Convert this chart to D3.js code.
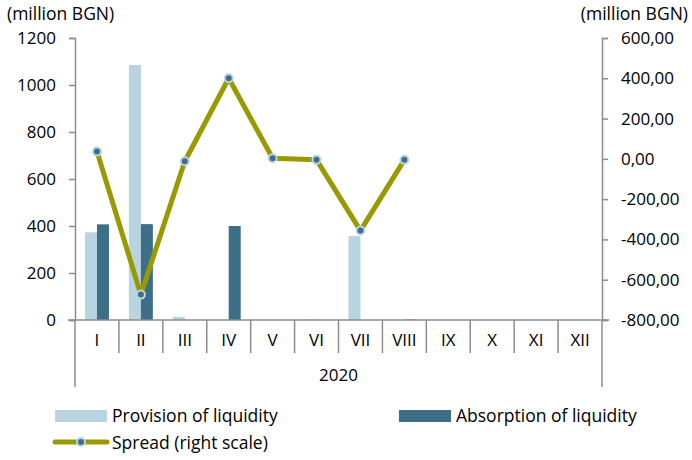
<html>
<head>
  <meta charset="utf-8">
  <script src="https://d3js.org/d3.v7.min.js"></script>
  <style>
    body { margin: 0; background: #fff; }
    text { font-family: "Open Sans", sans-serif; fill: #000; }
  </style>
</head>
<body>
<script>
  var months = ["I", "II", "III", "IV", "V", "VI", "VII", "VIII", "IX", "X", "XI", "XII"];
  var provision = [373, 1085, 13, 0, 0, 3, 357, 0, 0, 0, 0, 0];
  var absorption = [407, 408, 0, 400, 0, 0, 0, 2, 0, 0, 0, 0];
  var spread = [36, -674, -12, 400, 3, -5, -356, -5];
  var leftTicks = [0, 200, 400, 600, 800, 1000, 1200];
  var rightTicks = [-800, -600, -400, -200, 0, 200, 400, 600];

  var width = 692, height = 460;
  var x0 = 75, x1 = 602, yTop = 38, yBot = 320;

  var svg = d3.select("body").append("svg")
      .attr("width", width)
      .attr("height", height);

  var x = d3.scaleBand().domain(months).range([x0, x1]);
  var xs = d3.scaleBand().domain(["p", "a"]).range([0, 24]);
  var yL = d3.scaleLinear().domain([0, 1200]).range([yBot, yTop]);
  var yR = d3.scaleLinear().domain([-800, 600]).range([yBot, yTop]);

  var axisColor = "#8c8c8c";

  // bars
  var g = svg.append("g");
  months.forEach(function(m, i) {
    var cx = x(m) + x.bandwidth() / 2 - 12;
    if (provision[i] > 0)
      g.append("rect")
        .attr("x", cx + xs("p")).attr("width", xs.bandwidth())
        .attr("y", yL(provision[i])).attr("height", yBot - yL(provision[i]))
        .attr("fill", "#b7d4e0");
    if (absorption[i] > 0)
      g.append("rect")
        .attr("x", cx + xs("a")).attr("width", xs.bandwidth())
        .attr("y", yL(absorption[i])).attr("height", yBot - yL(absorption[i]))
        .attr("fill", "#3d7088");
  });

  // left axis
  var la = svg.append("g").attr("transform", "translate(" + x0 + ",0)")
      .call(d3.axisLeft(yL).tickValues(leftTicks).tickSize(6).tickPadding(13).tickFormat(d3.format("d")));
  // right axis
  var ra = svg.append("g").attr("transform", "translate(" + x1 + ",0)")
      .call(d3.axisRight(yR).tickValues(rightTicks).tickSize(6).tickPadding(13)
        .tickFormat(function(d) { return d3.format(".2f")(d).replace(".", ",").replace("−", "-"); }));
  [la, ra].forEach(function(a) {
    a.select(".domain").attr("stroke", axisColor).attr("stroke-width", 1.5);
    a.selectAll(".tick line").attr("stroke", axisColor).attr("stroke-width", 1.5);
    a.selectAll("text").style("font-size", "17px").attr("fill", "#000");
  });

  // category axis
  svg.append("line").attr("x1", 68).attr("x2", 609).attr("y1", yBot).attr("y2", yBot)
    .attr("stroke", axisColor).attr("stroke-width", 1.5);
  months.forEach(function(m, i) {
    if (i > 0)
      svg.append("line").attr("x1", x(m)).attr("x2", x(m)).attr("y1", yBot).attr("y2", 353)
        .attr("stroke", axisColor).attr("stroke-width", 1.5);
    svg.append("text").attr("x", x(m) + x.bandwidth() / 2).attr("y", 346)
      .attr("text-anchor", "middle").style("font-size", "17px").text(m);
  });
  [x0, x1].forEach(function(v) {
    svg.append("line").attr("x1", v).attr("x2", v).attr("y1", yBot).attr("y2", 387)
      .attr("stroke", axisColor).attr("stroke-width", 1.5);
  });
  svg.append("text").attr("x", (x0 + x1) / 2).attr("y", 381)
    .attr("text-anchor", "middle").style("font-size", "17px").text("2020");

  // spread line
  var line = d3.line()
    .x(function(d, i) { return x(months[i]) + x.bandwidth() / 2; })
    .y(function(d) { return yR(d); });
  svg.append("path").datum(spread).attr("d", line)
    .attr("fill", "none").attr("stroke", "#999900").attr("stroke-width", 5)
    .attr("stroke-linejoin", "round");
  svg.selectAll(".dot").data(spread).enter().append("circle")
    .attr("cx", function(d, i) { return x(months[i]) + x.bandwidth() / 2; })
    .attr("cy", function(d) { return yR(d); })
    .attr("r", 4).attr("fill", "#3d7088").attr("stroke", "#bcd4df").attr("stroke-width", 2);

  // units
  svg.append("text").attr("x", 7).attr("y", 20).style("font-size", "17.5px").text("(million BGN)");
  svg.append("text").attr("x", 688).attr("y", 20).attr("text-anchor", "end")
    .style("font-size", "17.5px").text("(million BGN)");

  // legend
  var lg = svg.append("g");
  lg.append("rect").attr("x", 55).attr("y", 410).attr("width", 52).attr("height", 12).attr("fill", "#b7d4e0");
  lg.append("text").attr("x", 112).attr("y", 422).style("font-size", "17.5px").text("Provision of liquidity");
  lg.append("rect").attr("x", 399).attr("y", 410).attr("width", 52).attr("height", 12).attr("fill", "#3d7088");
  lg.append("text").attr("x", 456).attr("y", 422).style("font-size", "17.5px").text("Absorption of liquidity");
  lg.append("line").attr("x1", 55).attr("x2", 107).attr("y1", 442).attr("y2", 442)
    .attr("stroke", "#999900").attr("stroke-width", 5).attr("stroke-linecap", "round");
  lg.append("circle").attr("cx", 81).attr("cy", 442).attr("r", 4)
    .attr("fill", "#3d7088").attr("stroke", "#bcd4df").attr("stroke-width", 2);
  lg.append("text").attr("x", 112).attr("y", 449).style("font-size", "17.5px").text("Spread (right scale)");
</script>
</body>
</html>
